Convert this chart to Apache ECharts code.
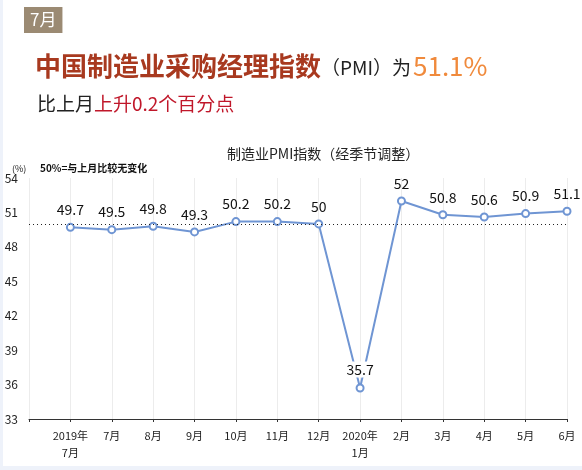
<!DOCTYPE html>
<html>
<head>
<meta charset="utf-8">
<script src="https://cdn.jsdelivr.net/npm/echarts@6/dist/echarts.min.js"></script>
<style>
html,body{margin:0;padding:0;background:#eef2fa;}
#chart{width:582px;height:470px;}
</style>
</head>
<body>
<div id="chart"></div>
<script>
var categories = ['2019年\n7月','7月','8月','9月','10月','11月','12月','2020年\n1月','2月','3月','4月','5月','6月'];
var pmiValues = [49.7, 49.5, 49.8, 49.3, 50.2, 50.2, 50, 35.7, 52, 50.8, 50.6, 50.9, 51.1];
var yTicks = [33, 36, 39, 42, 45, 48, 51, 54];
var baseline = 50;

var FONT = '"Noto Sans CJK SC", "Noto Sans", sans-serif';
var lineColor = '#6f95d3';

var xData = [''].concat(categories);
var seriesData = [null].concat(pmiValues.map(function (v, i) {
  if (v === 35.7) {
    return { value: v, label: { backgroundColor: '#fff', padding: [1, 3] } };
  }
  return v;
}));

var chart = echarts.init(document.getElementById('chart'));
chart.setOption({
  backgroundColor: '#eef2fa',
  animation: false,
  graphic: [{
    type: 'rect', z: -100, silent: true,
    shape: { x: 3, y: 0, width: 579, height: 466 },
    style: { fill: '#ffffff' }
  }],
  title: [
    {
      text: '7月', left: 24, top: 7,
      backgroundColor: '#9b8a73', padding: [3, 6, 3, 6],
      textStyle: { color: '#fff', fontSize: 17, fontFamily: FONT, fontWeight: 'normal', lineHeight: 20 }
    },
    {
      text: '{a|中国制造业采购经理指数}{b|（PMI）}{c|为}{d|51.1%}',
      left: 30, top: 48,
      textStyle: {
        fontFamily: FONT, fontWeight: 'normal',
        rich: {
          a: { fontSize: 26, fontWeight: 'bold', color: '#a8391f', fontFamily: FONT },
          b: { fontSize: 19, fontWeight: 'normal', color: '#222', fontFamily: FONT, padding: [4, 0, 0, 0] },
          c: { fontSize: 19, fontWeight: 'normal', color: '#222', fontFamily: FONT, padding: [4, 2, 0, 0] },
          d: { fontSize: 26, fontWeight: 'normal', color: '#f08a3c', fontFamily: FONT }
        }
      }
    },
    {
      text: '{a|比上月}{b|上升0.2个百分点}',
      left: 32, top: 89,
      textStyle: {
        fontFamily: FONT, fontWeight: 'normal',
        rich: {
          a: { fontSize: 19, fontWeight: 'normal', color: '#222', fontFamily: FONT },
          b: { fontSize: 19, fontWeight: 'normal', color: '#c0172a', fontFamily: FONT }
        }
      }
    },
    {
      text: '制造业PMI指数（经季节调整）',
      left: 222, top: 142,
      textStyle: { fontSize: 14, color: '#222', fontFamily: FONT, fontWeight: 'normal' }
    },
    {
      text: '(%)',
      left: 7, top: 159,
      textStyle: { fontSize: 9, color: '#222', fontFamily: FONT, fontWeight: 'normal' }
    },
    {
      text: '50%=与上月比较无变化',
      left: 35, top: 158,
      textStyle: { fontSize: 10, color: '#111', fontFamily: FONT, fontWeight: 'bold' }
    }
  ],
  grid: { left: 29, right: 15, top: 178, bottom: 51, containLabel: false },
  xAxis: {
    type: 'category',
    data: xData,
    boundaryGap: false,
    axisLine: { show: true, lineStyle: { color: '#333', width: 1 } },
    axisTick: { show: true, length: 3, lineStyle: { color: '#333' } },
    axisLabel: { color: '#222', fontSize: 11, fontFamily: FONT, lineHeight: 17, margin: 8, interval: 0 },
    splitLine: { show: true, lineStyle: { color: '#ececec', width: 1 } }
  },
  yAxis: {
    type: 'value',
    min: yTicks[0], max: yTicks[yTicks.length - 1], interval: 3,
    axisLine: { show: false },
    axisTick: { show: false },
    splitLine: { show: false },
    axisLabel: { color: '#222', fontSize: 12, fontFamily: FONT, margin: 11 }
  },
  series: [{
    type: 'line',
    data: seriesData,
    connectNulls: false,
    symbol: 'circle',
    symbolSize: 7,
    lineStyle: { color: lineColor, width: 2 },
    itemStyle: { color: '#fff', borderColor: lineColor, borderWidth: 2 },
    label: {
      show: true, position: 'top', distance: 6,
      color: '#111', fontSize: 14, fontFamily: FONT
    },
    markLine: {
      silent: true,
      symbol: 'none',
      label: { show: false },
      lineStyle: { color: '#222', type: [1, 3], width: 1 },
      data: [{ yAxis: baseline }]
    }
  }]
});
</script>
</body>
</html>
